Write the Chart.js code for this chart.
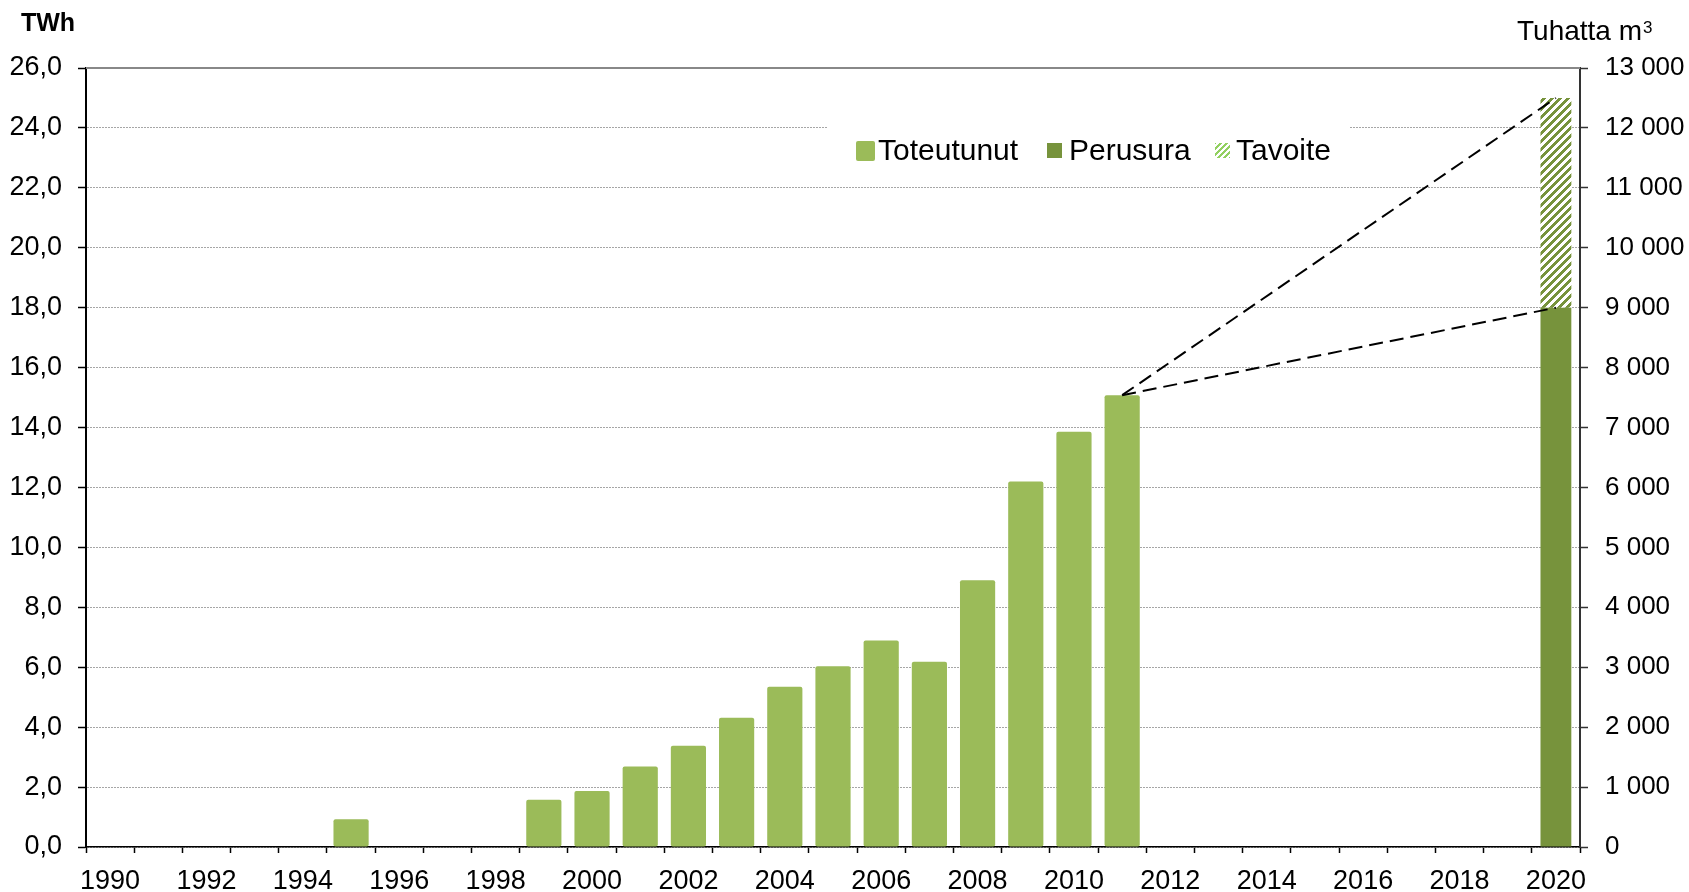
<!DOCTYPE html>
<html>
<head>
<meta charset="utf-8">
<script src="https://cdn.jsdelivr.net/npm/chart.js@4.4.0/dist/chart.umd.min.js"></script>
<style>
  html, body { margin: 0; padding: 0; background: #fff; }
  #kuvaaja { display: block; }
</style>
</head>
<body>
<canvas id="kuvaaja" width="1689" height="892"></canvas>
<script>
const vuodet = [];
for (let v = 1990; v <= 2020; v++) vuodet.push(String(v));

// TWh, luettu kuvasta
const toteutunut = [null, null, null, null, null, 0.93, null, null, null, 1.58,
  1.87, 2.69, 3.38, 4.31, 5.35, 6.03, 6.89, 6.18, 8.9, 12.2,
  13.86, 15.08, null, null, null, null, null, null, null, null, null];
const perusura = [null, null, null, null, null, null, null, null, null, null,
  null, null, null, null, null, null, null, null, null, null,
  null, null, null, null, null, null, null, null, null, null, 18.0];
const tavoite = [null, null, null, null, null, null, null, null, null, null,
  null, null, null, null, null, null, null, null, null, null,
  null, null, null, null, null, null, null, null, null, null, [18.0, 25.0]];
const viivaTavoite = [null, null, null, null, null, null, null, null, null, null,
  null, null, null, null, null, null, null, null, null, null,
  null, 15.08, null, null, null, null, null, null, null, null, 25.0];
const viivaPerusura = [null, null, null, null, null, null, null, null, null, null,
  null, null, null, null, null, null, null, null, null, null,
  null, 15.08, null, null, null, null, null, null, null, null, 18.0];

const fontti = 'Liberation Sans, Arial, sans-serif';

function viivoitus(vari, n) {
  const c = document.createElement('canvas');
  c.width = n; c.height = n;
  const g = c.getContext('2d');
  g.fillStyle = '#fff';
  g.fillRect(0, 0, n, n);
  g.fillStyle = vari;
  for (let x = 0; x < n; x++) {
    for (let y = 0; y < n; y++) {
      if ((x + y) % n < n / 2) g.fillRect(x, y, 1, 1);
    }
  }
  return g.createPattern(c, 'repeat');
}

const ctx = document.getElementById('kuvaaja').getContext('2d');
const tavoiteKuvio = viivoitus('#77933c', 8);
const tavoiteSelite = viivoitus('#92d060', 6);

const tekstit = {
  id: 'tekstit',
  afterDraw(chart) {
    const c = chart.ctx;
    const a = chart.chartArea;
    c.save();
    // yläreuna
    c.strokeStyle = '#888';
    c.lineWidth = 2;
    c.beginPath();
    c.moveTo(a.left, a.top);
    c.lineTo(a.right, a.top);
    c.stroke();

    c.fillStyle = '#000';
    c.font = 'bold 25px ' + fontti;
    c.textAlign = 'center';
    c.textBaseline = 'alphabetic';
    c.fillText('TWh', 48, 31);
    c.font = '28px ' + fontti;
    c.textAlign = 'left';
    c.fillText('Tuhatta m', 1517, 40);
    const w = c.measureText('Tuhatta m').width;
    c.font = '17px ' + fontti;
    c.fillText('3', 1517 + w + 1, 33);

    // selite
    c.fillStyle = '#fff';
    c.fillRect(827, 104, 523, 76);
    c.fillStyle = '#9bbb59';
    c.beginPath();
    c.roundRect(856, 141, 19, 20, 2);
    c.fill();
    c.fillStyle = '#77933c';
    c.fillRect(1047, 143, 15, 15);
    c.fillStyle = tavoiteSelite;
    c.fillRect(1215, 143, 15, 15);
    c.fillStyle = '#000';
    c.font = '30px ' + fontti;
    c.fillText('Toteutunut', 878, 160);
    c.fillText('Perusura', 1069, 160);
    c.fillText('Tavoite', 1236, 160);
    c.restore();
  }
};

new Chart(ctx, {
  type: 'bar',
  data: {
    labels: vuodet,
    datasets: [
      {
        type: 'line', label: 'tavoiteviiva', data: viivaTavoite,
        borderColor: '#000', borderWidth: 2, borderDash: [14, 7],
        pointRadius: 0, spanGaps: true, order: 0, yAxisID: 'y'
      },
      {
        type: 'line', label: 'perusuraviiva', data: viivaPerusura,
        borderColor: '#000', borderWidth: 2, borderDash: [14, 7],
        pointRadius: 0, spanGaps: true, order: 0, yAxisID: 'y'
      },
      {
        label: 'Toteutunut', data: toteutunut, backgroundColor: '#9bbb59',
        barPercentage: 0.73, categoryPercentage: 1, borderRadius: 2,
        borderSkipped: false, order: 1, yAxisID: 'y'
      },
      {
        label: 'Perusura', data: perusura, backgroundColor: '#77933c',
        barPercentage: 0.64, categoryPercentage: 1, order: 1, yAxisID: 'y'
      },
      {
        label: 'Tavoite', data: tavoite, backgroundColor: tavoiteKuvio,
        barPercentage: 0.64, categoryPercentage: 1, borderSkipped: false,
        order: 1, yAxisID: 'y'
      }
    ]
  },
  options: {
    responsive: false,
    animation: false,
    layout: { padding: { top: 68, left: 0, right: 0, bottom: 0 } },
    plugins: {
      legend: { display: false },
      tooltip: { enabled: false }
    },
    scales: {
      x: {
        stacked: true,
        offset: true,
        afterFit: s => { s.height = 45; },
        grid: {
          offset: true, drawOnChartArea: false, drawTicks: true,
          tickLength: 6, tickColor: '#000', tickWidth: 1.5
        },
        border: { color: '#000', width: 1.5 },
        ticks: {
          autoSkip: false, maxRotation: 0, padding: 12,
          color: '#000', font: { family: fontti, size: 27 },
          callback: function (v, i) { return i % 2 === 0 ? vuodet[i] : ''; }
        }
      },
      y: {
        position: 'left',
        stacked: false,
        min: 0, max: 26,
        afterFit: s => { s.width = 86; },
        grid: {
          color: '#a6a6a6', lineWidth: 1,
          tickLength: 8, tickColor: '#000', tickWidth: 1.5, tickBorderDash: []
        },
        border: { color: '#000', width: 2, dash: [2, 1] },
        ticks: {
          stepSize: 2, padding: 16, color: '#000',
          font: { family: fontti, size: 27 },
          callback: v => v.toFixed(1).replace('.', ',')
        }
      },
      y1: {
        position: 'right',
        min: 0, max: 13000,
        afterFit: s => { s.width = 109; },
        grid: {
          drawOnChartArea: false, tickLength: 8, tickColor: '#333', tickWidth: 1.5
        },
        border: { color: '#333', width: 2 },
        ticks: {
          stepSize: 1000, padding: 17, color: '#000',
          font: { family: fontti, size: 26 },
          callback: v => String(v).replace(/\B(?=(\d{3})+(?!\d))/g, ' ')
        }
      }
    }
  },
  plugins: [tekstit]
});
</script>
</body>
</html>
